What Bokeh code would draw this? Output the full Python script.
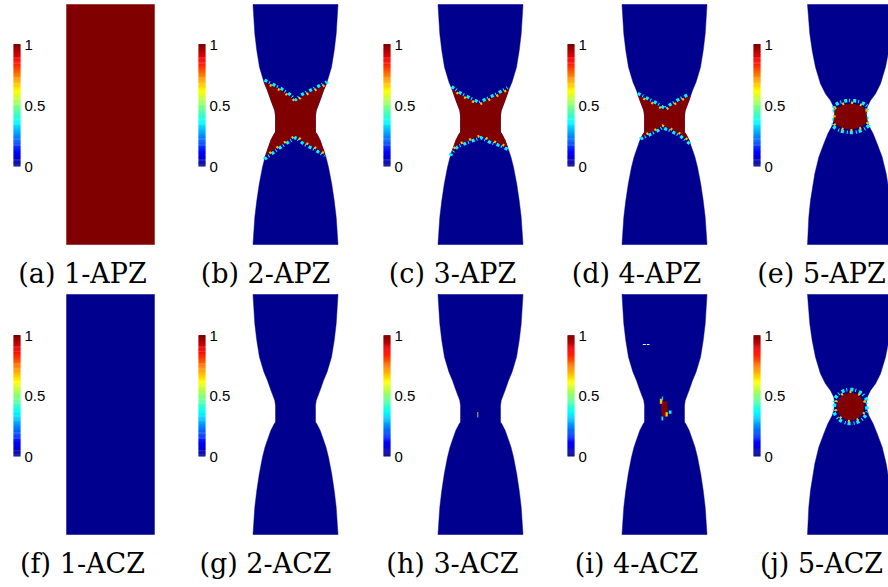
import numpy as np
from bokeh.plotting import figure
from bokeh.models import Range1d
from bokeh.core.properties import value
from bokeh.embed import file_html
from bokeh.resources import INLINE

# ---------------------------------------------------------------- data
captions_apz = ["(a) 1-APZ", "(b) 2-APZ", "(c) 3-APZ", "(d) 4-APZ", "(e) 5-APZ"]
captions_acz = ["(f) 1-ACZ", "(g) 2-ACZ", "(h) 3-ACZ", "(i) 4-ACZ", "(j) 5-ACZ"]
cbar_ticks = [0.0, 0.5, 1.0]
cbar_labels = ["0", "0.5", "1"]

# specimen outline: half-width against depth below the top grip (px)
waist_depth = [0, 29.3, 46, 62.7, 77.7, 86, 96, 106, 111, 119.3, 127.7, 129.3,
               136, 146, 152.7, 162.7, 179.3, 196, 212.7, 240]
waist_halfwidth = [42.5, 40.7, 38.7, 36, 31.5, 28, 24.5, 20.7, 20, 20, 20, 21.3,
                   24.7, 28.2, 30.5, 33, 36.2, 38.7, 40.7, 42.5]
sharp_depth = [0, 29.3, 46, 62.7, 79.3, 89.3, 96, 102.7, 109.3, 116, 121, 129.3,
               139.3, 152.7, 169.3, 196, 212.7, 240]
sharp_halfwidth = [43, 40.7, 38.3, 35, 30, 25, 20, 16.7, 15.7, 16.7, 18.3, 22.7,
                   26.7, 31.7, 35.7, 40, 41.7, 43]
straight_depth = [0, 240]
straight_halfwidth = [44, 44]

# outline used in each column (both rows)
outline_kind = ["straight", "waist", "waist", "waist", "sharp"]

# fully damaged band (d = 1) between two fronts: x from axis, depth
front_b_up_x = [-31, -14.7, -4.7, 0.3, 5.3, 18.7, 32]
front_b_up_y = [77.7, 86, 92.7, 97.7, 92.7, 86, 79.3]
front_b_lo_x = [-31.3, -18, -8, 0.3, 8.7, 18.7, 29.3]
front_b_lo_y = [152.7, 142.7, 136, 131, 137.7, 142.7, 149.3]

front_c_up_x = [-29, -19.7, -9.7, -1.3, 7, 17, 27]
front_c_up_y = [84.3, 91, 96, 100, 96, 91, 85.3]
front_c_lo_x = [-31.3, -23, -13, 0.3, 10.3, 20.3, 27]
front_c_lo_y = [149.3, 140, 136, 131, 136, 139.3, 142.7]

front_d_up_x = [-26.7, -17.3, -7.3, 0, 7.7, 16, 24.3]
front_d_up_y = [91, 96, 101, 106, 101, 96, 92]
front_d_lo_x = [-24.7, -17.3, -7.3, -2.3, 6, 16, 26]
front_d_lo_y = [132.7, 129.3, 124.3, 121, 124.3, 129.3, 137.7]

# damaged core at the neck: centre depth, x radius, y radius
core_e = [112, 18, 12.5]
core_j = [112, 13.5, 13.5]

# small damaged spot in 4-ACZ
spot_i_x = [-3, 2.7, 3, 2.7, -2.3, -3]
spot_i_y = [107, 107, 115, 122, 122, 115]
spot_i_yellow = [(-4.7, -2.3, 104.3, 109.3), (1, 3.3, 117.7, 122)]
spot_i_cyan = [(4.3, 7, 116, 119.3), (-2.7, -1.7, 102, 106), (-3, -1.3, 122, 126)]
gap_i = [(-21.7, -18.7, 49.5, 50.5), (-17.7, -15, 49.5, 50.5)]
# single partly damaged element in 3-ACZ
spot_h_yellow = [(-3.2, -2.2, 117.5, 120.5)]
spot_h_cyan = [(-3.2, -2.2, 120.5, 123)]

# ---------------------------------------------------------------- layout
W, H = 888, 587
col_center = [110, 295, 480, 664, 850]
cbar_left = [13, 198, 383, 567, 753]
caption_center = [82, 265, 452, 636, 821]
row_top = [4, 294]
cbar_top = [44, 335]
cbar_bottom = [166, 456]
caption_base = [273, 563]
CBAR_W = 7
SPEC_H = 240

PROFILES = {
    "waist": (waist_depth, waist_halfwidth),
    "sharp": (sharp_depth, sharp_halfwidth),
    "straight": (straight_depth, straight_halfwidth),
}


def jet(t):
    t = (1 + 63 * np.clip(t, 0, 1)) / 64.0
    r = np.clip(1.5 - abs(4 * t - 3), 0, 1)
    g = np.clip(1.5 - abs(4 * t - 2), 0, 1)
    b = np.clip(1.5 - abs(4 * t - 1), 0, 1)
    return "#%02x%02x%02x" % (int(round(r * 255)), int(round(g * 255)), int(round(b * 255)))


BLUE = jet(0.0)
RED = jet(1.0)
CYAN = jet(0.36)
YELLOW = jet(0.68)


def halfwidth(kind, y):
    d, hw = PROFILES[kind]
    return np.interp(y, d, hw)


def outline(kind, cx, top):
    ys = np.linspace(0, SPEC_H, 481)
    h = halfwidth(kind, ys)
    xs = np.concatenate([cx - h, (cx + h)[::-1]])
    yy = np.concatenate([top + ys, (top + ys)[::-1]])
    return list(xs), list(yy)


def densify(px, py, closed=True, step=0.4):
    px = list(px)
    py = list(py)
    if closed:
        px.append(px[0])
        py.append(py[0])
    xs, ys = [], []
    for i in range(len(px) - 1):
        dx, dy = px[i + 1] - px[i], py[i + 1] - py[i]
        n = max(2, int(np.hypot(dx, dy) / step) + 1)
        t = np.linspace(0, 1, n, endpoint=False)
        xs.extend(px[i] + t * dx)
        ys.extend(py[i] + t * dy)
    xs.append(px[-1])
    ys.append(py[-1])
    return np.array(xs), np.array(ys)


def clipped(kind, x, y):
    h = halfwidth(kind, y)
    return np.clip(x, -h, h)


def band_polygon(ux, uy, lx, ly):
    px = [-60] + list(ux) + [60, 60] + list(lx)[::-1] + [-60]
    py = [uy[0]] + list(uy) + [uy[-1], ly[-1]] + list(ly)[::-1] + [ly[0]]
    return px, py


def ellipse(cy, rx, ry, n=120):
    a = np.linspace(0, 2 * np.pi, n, endpoint=False)
    return list(rx * np.cos(a)), list(cy + ry * np.sin(a))


p = figure(width=W, height=H, x_range=Range1d(0, W), y_range=Range1d(H, 0),
           output_backend="svg", toolbar_location=None, min_border=0,
           background_fill_color="white", border_fill_color="white")
p.axis.visible = False
p.grid.visible = False
p.outline_line_color = None

# --- specimens
spec_xs, spec_ys, spec_fill = [], [], []
for r in range(2):
    for c in range(5):
        xs, ys = outline(outline_kind[c], col_center[c], row_top[r])
        spec_xs.append(xs)
        spec_ys.append(ys)
        spec_fill.append(RED if (r == 0 and c == 0) else BLUE)
p.patches(spec_xs, spec_ys, fill_color=spec_fill, line_color=spec_fill, line_width=0.5)

# --- damage bands and cores
dmg_xs, dmg_ys = [], []
cyan_lines_x, cyan_lines_y, yel_lines_x, yel_lines_y = [], [], [], []


def add_region(kind, cx, top, px, py):
    x, y = densify(px, py)
    x = clipped(kind, x, y)
    dmg_xs.append(list(cx + x))
    dmg_ys.append(list(top + y))


def add_front(kind, cx, top, fx, fy, offset, target_x, target_y):
    x, y = densify(fx, np.array(fy) + offset, closed=False)
    x = clipped(kind, x, y)
    target_x.append(list(cx + x))
    target_y.append(list(top + y))


fronts = {
    1: (front_b_up_x, front_b_up_y, front_b_lo_x, front_b_lo_y),
    2: (front_c_up_x, front_c_up_y, front_c_lo_x, front_c_lo_y),
    3: (front_d_up_x, front_d_up_y, front_d_lo_x, front_d_lo_y),
}
for c, (ux, uy, lx, ly) in fronts.items():
    kind, cx, top = outline_kind[c], col_center[c], row_top[0]
    px, py = band_polygon(ux, uy, lx, ly)
    add_region(kind, cx, top, px, py)
    add_front(kind, cx, top, ux, uy, -2.0, cyan_lines_x, cyan_lines_y)
    add_front(kind, cx, top, lx, ly, 2.0, cyan_lines_x, cyan_lines_y)
    add_front(kind, cx, top, ux, uy, 0.0, yel_lines_x, yel_lines_y)
    add_front(kind, cx, top, lx, ly, 0.0, yel_lines_x, yel_lines_y)

for r, core in ((0, core_e), (1, core_j)):
    kind, cx, top = outline_kind[4], col_center[4], row_top[r]
    cy, rx, ry = core
    px, py = ellipse(cy, rx, ry)
    add_region(kind, cx, top, px, py)
    ex, ey = ellipse(cy, rx + 4, ry + 3.5)
    add_front(kind, cx, top, ex + ex[:1], ey + ey[:1], 0, cyan_lines_x, cyan_lines_y)
    ex, ey = ellipse(cy, rx + 1.5, ry + 1.2)
    add_front(kind, cx, top, ex + ex[:1], ey + ey[:1], 0, yel_lines_x, yel_lines_y)

add_region(outline_kind[3], col_center[3], row_top[1], spot_i_x, spot_i_y)

p.multi_line(cyan_lines_x, cyan_lines_y, line_color=CYAN, line_width=3.5,
             line_dash="3 2 1 3")
p.patches(dmg_xs, dmg_ys, fill_color=RED, line_color=RED, line_width=0.5)
p.multi_line(yel_lines_x, yel_lines_y, line_color=YELLOW, line_width=2.5,
             line_dash="2 7", line_dash_offset=3)


def add_cells(cells, cx, top, color):
    p.quad(left=[cx + a for a, b, t, u in cells], right=[cx + b for a, b, t, u in cells],
           top=[top + t for a, b, t, u in cells], bottom=[top + u for a, b, t, u in cells],
           fill_color=color, line_color=None)


add_cells(spot_i_yellow, col_center[3], row_top[1], YELLOW)
add_cells(spot_i_cyan, col_center[3], row_top[1], CYAN)
add_cells(gap_i, col_center[3], row_top[1], "white")
add_cells(spot_h_yellow, col_center[2], row_top[1], YELLOW)
add_cells(spot_h_cyan, col_center[2], row_top[1], CYAN)

# --- colour bars
NLEV = 128
levels = np.linspace(0, 1, NLEV)
cb_l, cb_r, cb_t, cb_b, cb_c = [], [], [], [], []
tk_x, tk_y, tk_txt = [], [], []
for r in range(2):
    y0, y1 = cbar_top[r], cbar_bottom[r]
    step = (y1 - y0) / NLEV
    for c in range(5):
        x0 = cbar_left[c]
        for k, t in enumerate(levels):
            cb_l.append(x0)
            cb_r.append(x0 + CBAR_W)
            cb_b.append(y1 - k * step)
            cb_t.append(y1 - (k + 1) * step - 0.4)
            cb_c.append(jet(t))
        for tv, lab in zip(cbar_ticks, cbar_labels):
            tk_x.append(x0 + CBAR_W + 4)
            tk_y.append(y1 - tv * (y1 - y0))
            tk_txt.append(lab)
p.quad(left=cb_l, right=cb_r, top=cb_t, bottom=cb_b, fill_color=cb_c, line_color=None)
p.text(tk_x, tk_y, text=tk_txt, text_font=value("Liberation Sans"),
       text_font_size="15px", text_baseline="middle", text_align="left",
       text_color="black")

# --- captions
cap_x, cap_y, cap_txt = [], [], []
for r, caps in enumerate((captions_apz, captions_acz)):
    for c in range(5):
        cap_x.append(caption_center[c])
        cap_y.append(caption_base[r])
        cap_txt.append(caps[c])
p.text(cap_x, cap_y, text=cap_txt, text_font=value("DejaVu Serif"),
       text_font_size="27px", text_baseline="alphabetic", text_align="center",
       text_color="black")

open("out.html", "w").write(file_html(p, INLINE))
